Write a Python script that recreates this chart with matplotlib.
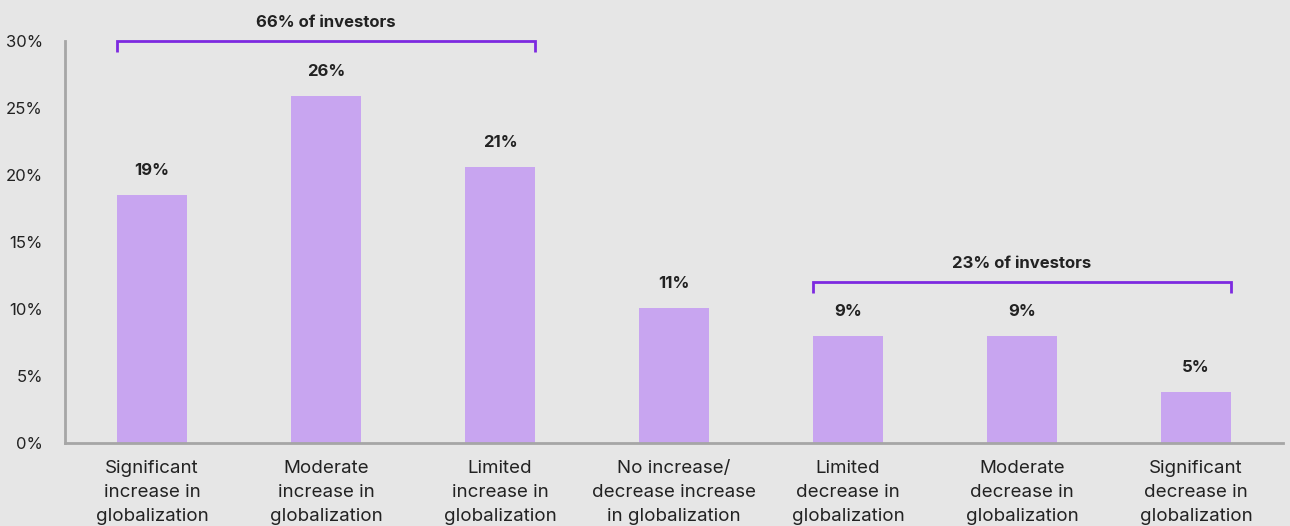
import matplotlib
matplotlib.use("Agg")
import matplotlib.pyplot as plt

categories = [
    "Significant\nincrease in\nglobalization",
    "Moderate\nincrease in\nglobalization",
    "Limited\nincrease in\nglobalization",
    "No increase/\ndecrease increase\nin globalization",
    "Limited\ndecrease in\nglobalization",
    "Moderate\ndecrease in\nglobalization",
    "Significant\ndecrease in\nglobalization",
]
values = [18.5, 25.9, 20.6, 10.1, 8.0, 8.0, 3.8]
value_labels = ["19%", "26%", "21%", "11%", "9%", "9%", "5%"]
y_ticks = [0, 5, 10, 15, 20, 25, 30]
y_tick_labels = ["0%", "5%", "10%", "15%", "20%", "25%", "30%"]
groups = [
    {"start": 0, "end": 2, "level": 30.0, "label": "66% of investors"},
    {"start": 4, "end": 6, "level": 12.0, "label": "23% of investors"},
]

plt.rcParams['font.family'] = ['Inter', 'DejaVu Sans']
BG = "#e6e6e6"
BAR = "#c8a5f0"
BRK = "#7d2ae0"
TXT = "#222222"

fig = plt.figure(figsize=(12.9, 5.26), dpi=100, facecolor=BG)
ax = fig.add_axes([65/1290, 83/526, 1218/1290, 402/526])
ax.set_facecolor(BG)

x = list(range(len(categories)))
bw = 0.4
ax.bar(x, values, width=bw, color=BAR, zorder=2)

for xi, v, lab in zip(x, values, value_labels):
    ax.annotate(lab, (xi, v), xytext=(0, 12), textcoords="offset points",
                ha="center", va="bottom", fontsize=12, fontweight="bold", color=TXT)

for g in groups:
    x0 = g["start"] - bw / 2
    x1 = g["end"] + bw / 2
    lvl = g["level"]
    drop = 0.8
    ax.plot([x0, x0, x1, x1], [lvl - drop, lvl, lvl, lvl - drop], color=BRK,
            lw=2, solid_capstyle="butt", solid_joinstyle="miter", clip_on=False, zorder=3)
    ax.annotate(g["label"], ((x0 + x1) / 2, lvl), xytext=(0, 8), textcoords="offset points",
                ha="center", va="bottom", fontsize=12, fontweight="bold", color=TXT,
                annotation_clip=False)

ax.set_xlim(-0.5, 6.5)
ax.set_ylim(0, 30)
ax.set_yticks(y_ticks)
ax.set_yticklabels(y_tick_labels, fontsize=12, color=TXT)
ax.set_xticks(x)
ax.set_xticklabels(categories, fontsize=13.5, color=TXT, linespacing=1.52, va="top")
ax.tick_params(axis="both", length=0)
ax.tick_params(axis="y", pad=16)
ax.tick_params(axis="x", pad=12.5)

for s in ["top", "right"]:
    ax.spines[s].set_visible(False)
for s in ["left", "bottom"]:
    ax.spines[s].set_color("#a6a6a6")
    ax.spines[s].set_linewidth(2)

fig.savefig("out.png", dpi=100, facecolor=BG)
